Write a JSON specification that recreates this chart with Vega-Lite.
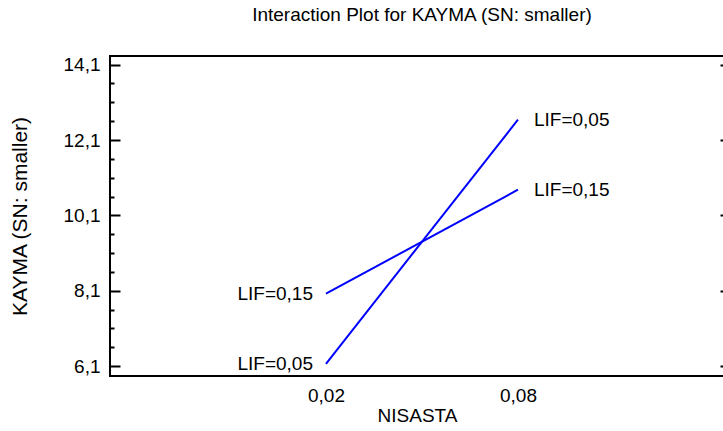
{
  "$schema": "https://vega.github.io/schema/vega-lite/v6.json",
  "width": 614,
  "height": 320,
  "autosize": {"type": "none"},
  "padding": {"left": 110, "top": 56, "right": 0, "bottom": 55},
  "background": "white",
  "config": {
    "font": "Liberation Sans",
    "view": {"stroke": "black", "strokeWidth": 2},
    "text": {"font": "Liberation Sans"},
    "axis": {"labelFont": "Liberation Sans", "titleFont": "Liberation Sans", "labelColor": "black", "titleColor": "black", "titleFontWeight": "normal", "grid": false}
  },
  "title": {
    "text": "Interaction Plot for KAYMA (SN: smaller)",
    "font": "Liberation Sans",
    "fontSize": 19,
    "fontWeight": "normal",
    "color": "black",
    "anchor": "middle",
    "dx": 5,
    "offset": 31
  },
  "data": {
    "values": [
      {"NISASTA": 0.02, "KAYMA": 6.16, "LIF": "0,05", "label": "LIF=0,05"},
      {"NISASTA": 0.08, "KAYMA": 12.64, "LIF": "0,05", "label": "LIF=0,05"},
      {"NISASTA": 0.02, "KAYMA": 8.02, "LIF": "0,15", "label": "LIF=0,15"},
      {"NISASTA": 0.08, "KAYMA": 10.78, "LIF": "0,15", "label": "LIF=0,15"}
    ]
  },
  "resolve": {"scale": {"y": "shared", "x": "shared"}, "axis": {"y": "independent", "x": "independent"}},
  "layer": [
    {
      "mark": {"type": "line", "color": "#0000ff", "strokeWidth": 2},
      "encoding": {
        "x": {
          "field": "NISASTA", "type": "quantitative",
          "scale": {"domain": [-0.0475, 0.1444], "nice": false, "zero": false},
          "axis": {
            "values": [0.02, 0.08],
            "ticks": false,
            "domain": false,
            "labelFontSize": 19,
            "labelPadding": 10,
            "labelExpr": "replace(format(datum.value, '.2f'), '.', ',')",
            "title": "NISASTA",
            "titleFontSize": 19,
            "titlePadding": 1
          }
        },
        "y": {
          "field": "KAYMA", "type": "quantitative",
          "scale": {"domain": [5.835, 14.33], "nice": false, "zero": false},
          "axis": {
            "values": [6.1, 6.6, 7.1, 7.6, 8.1, 8.6, 9.1, 9.6, 10.1, 10.6, 11.1, 11.6, 12.1, 12.6, 13.1, 13.6, 14.1],
            "domain": false,
            "tickColor": "black",
            "tickWidth": 2,
            "tickSize": {"condition": {"test": "abs(((datum.value - 6.1) / 2) - round((datum.value - 6.1) / 2)) < 0.01", "value": -10}, "value": -4},
            "labelFontSize": 19,
            "labelPadding": 20,
            "labelExpr": "abs(((datum.value - 6.1) / 2) - round((datum.value - 6.1) / 2)) < 0.01 ? replace(format(datum.value, '.1f'), '.', ',') : ''",
            "title": "KAYMA (SN: smaller)",
            "titleFontSize": 21,
            "titlePadding": 33
          }
        },
        "detail": {"field": "LIF"}
      }
    },
    {
      "transform": [{"filter": "datum.NISASTA < 0.05"}],
      "mark": {"type": "text", "align": "right", "baseline": "middle", "dx": -13, "font": "Liberation Sans", "fontSize": 19, "color": "black"},
      "encoding": {
        "x": {"field": "NISASTA", "type": "quantitative", "axis": null},
        "y": {"field": "KAYMA", "type": "quantitative", "axis": null},
        "text": {"field": "label"}
      }
    },
    {
      "transform": [{"filter": "datum.NISASTA > 0.05"}],
      "mark": {"type": "text", "align": "left", "baseline": "middle", "dx": 16, "font": "Liberation Sans", "fontSize": 19, "color": "black"},
      "encoding": {
        "x": {"field": "NISASTA", "type": "quantitative", "axis": null},
        "y": {"field": "KAYMA", "type": "quantitative", "axis": null},
        "text": {"field": "label"}
      }
    },
    {
      "mark": {"type": "point", "opacity": 0},
      "encoding": {
        "x": {"field": "NISASTA", "type": "quantitative", "axis": null},
        "y": {
          "field": "KAYMA", "type": "quantitative",
          "axis": {"orient": "right", "values": [6.1, 8.1, 10.1, 12.1, 14.1], "domain": false, "labels": false, "tickColor": "black", "tickWidth": 2, "tickSize": -4, "title": null}
        }
      }
    }
  ]
}
